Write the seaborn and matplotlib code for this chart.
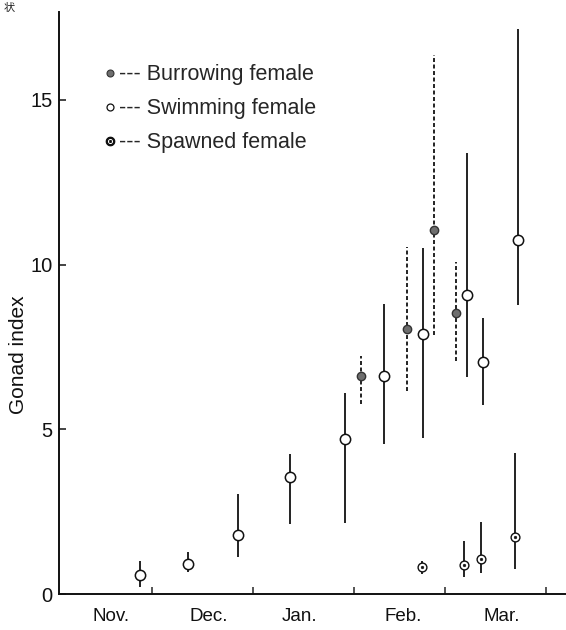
import numpy as np
import pandas as pd
import matplotlib
matplotlib.use("Agg")
import matplotlib.pyplot as plt
from matplotlib.lines import Line2D
import seaborn as sns

# x values are days counted from 1 November
swim_day = [26.2, 40.9, 56.2, 72.4, 89.2, 101.3, 113.4, 126.7, 131.7, 142.6]
swim_mean = [0.58, 0.92, 1.78, 3.54, 4.72, 6.62, 7.89, 9.09, 7.04, 10.76]
swim_low = [0.22, 0.66, 1.11, 2.13, 2.16, 4.54, 4.75, 6.58, 5.75, 8.76]
swim_high = [1.00, 1.26, 3.03, 4.26, 6.11, 8.81, 10.50, 13.38, 8.38, 17.14]

burrow_day = [94.3, 108.3, 116.6, 123.3]
burrow_mean = [6.62, 8.05, 11.05, 8.52]
burrow_low = [5.78, 6.15, 7.85, 7.07]
burrow_high = [7.24, 10.55, 16.35, 10.07]

spawn_day = [113.1, 126.0, 131.0, 141.6]
spawn_mean = [0.81, 0.87, 1.05, 1.73]
spawn_low = [0.61, 0.51, 0.65, 0.75]
spawn_high = [1.01, 1.62, 2.20, 4.28]

month_names = ["Nov.", "Dec.", "Jan.", "Feb.", "Mar."]
month_tick_days = [30, 61, 92, 120, 151]
month_label_days = [17.2, 47.4, 75.4, 107.1, 137.6]
y_ticks = [0, 5, 10, 15]
y_tick_labels = ["0", "5", "10", "15"]

legend_labels = ["--- Burrowing female", "--- Swimming female", "--- Spawned female"]

sns.set_style("ticks")
plt.rcParams["font.family"] = ["Liberation Sans", "Noto Sans CJK JP", "DejaVu Sans"]

fig = plt.figure(figsize=(5.66, 6.30), dpi=100)
ax = fig.add_axes([59 / 566, (630 - 594) / 630, (566 - 59) / 566, (594 - 12) / 630])

swim = pd.DataFrame({"day": swim_day, "gi": swim_mean, "lo": swim_low, "hi": swim_high})
burrow = pd.DataFrame({"day": burrow_day, "gi": burrow_mean, "lo": burrow_low, "hi": burrow_high})
spawn = pd.DataFrame({"day": spawn_day, "gi": spawn_mean, "lo": spawn_low, "hi": spawn_high})

# error ranges
ax.vlines(swim["day"], swim["lo"], swim["hi"], colors="#111111", linewidth=1.3, zorder=1)
ax.vlines(spawn["day"], spawn["lo"], spawn["hi"], colors="#111111", linewidth=1.3, zorder=1)
ax.vlines(burrow["day"], burrow["lo"], burrow["hi"], colors="#111111", linewidth=1.3,
          linestyles=(0, (2.2, 1.4)), zorder=1)

# points
sns.scatterplot(data=swim, x="day", y="gi", ax=ax, marker="o", s=55,
                facecolor="white", edgecolor="#111111", linewidth=1.1, zorder=3)
sns.scatterplot(data=burrow, x="day", y="gi", ax=ax, marker="o", s=36,
                facecolor="#6e6e6e", edgecolor="#333333", linewidth=1.0, zorder=3)
sns.scatterplot(data=spawn, x="day", y="gi", ax=ax, marker="o", s=40,
                facecolor="white", edgecolor="#111111", linewidth=1.0, zorder=3)
sns.scatterplot(data=spawn, x="day", y="gi", ax=ax, marker="o", s=4,
                facecolor="#111111", edgecolor="#111111", linewidth=0.3, zorder=4)

ax.set_xlim(1.23, 157.3)
ax.set_ylim(0, 17.67)

for s in ["top", "right"]:
    ax.spines[s].set_visible(False)
for s in ["left", "bottom"]:
    ax.spines[s].set_linewidth(1.4)
    ax.spines[s].set_color("#111111")

ax.set_yticks(y_ticks)
ax.set_yticklabels(y_tick_labels)
ax.tick_params(axis="y", direction="in", length=5, width=1.1, pad=4.5, labelsize=14.5,
               colors="#111111")

ax.set_xticks(month_tick_days)
ax.set_xticklabels([])
ax.tick_params(axis="x", which="major", direction="in", length=5, width=1.1)
ax.set_xticks(month_label_days, minor=True)
ax.set_xticklabels(month_names, minor=True)
ax.tick_params(axis="x", which="minor", length=0, pad=10.2, labelsize=13.5, colors="#111111")

ax.set_xlabel("")
ax.set_ylabel("Gonad index", fontsize=15, color="#111111")
ax.yaxis.set_label_coords((28 - 59) / 507, (594 - 355) / 582)

handles = [
    Line2D([], [], linestyle="none", marker="o", markersize=5, markerfacecolor="#6e6e6e",
           markeredgecolor="#333333", markeredgewidth=0.8),
    Line2D([], [], linestyle="none", marker="o", markersize=5, markerfacecolor="white",
           markeredgecolor="#111111", markeredgewidth=0.9),
    Line2D([], [], linestyle="none", marker="$\\odot$", markersize=6, color="#111111"),
]
ax.legend(handles, legend_labels, loc="upper left", bbox_to_anchor=(0.07, 0.925),
          frameon=False, handlelength=0.6, handletextpad=0.15, labelspacing=0.6,
          fontsize=15.5, borderaxespad=0)

fig.text(4 / 566, 1 - 11 / 630, "状", fontsize=8, color="#222222", ha="left", va="baseline")

fig.savefig("out.png", dpi=100)
